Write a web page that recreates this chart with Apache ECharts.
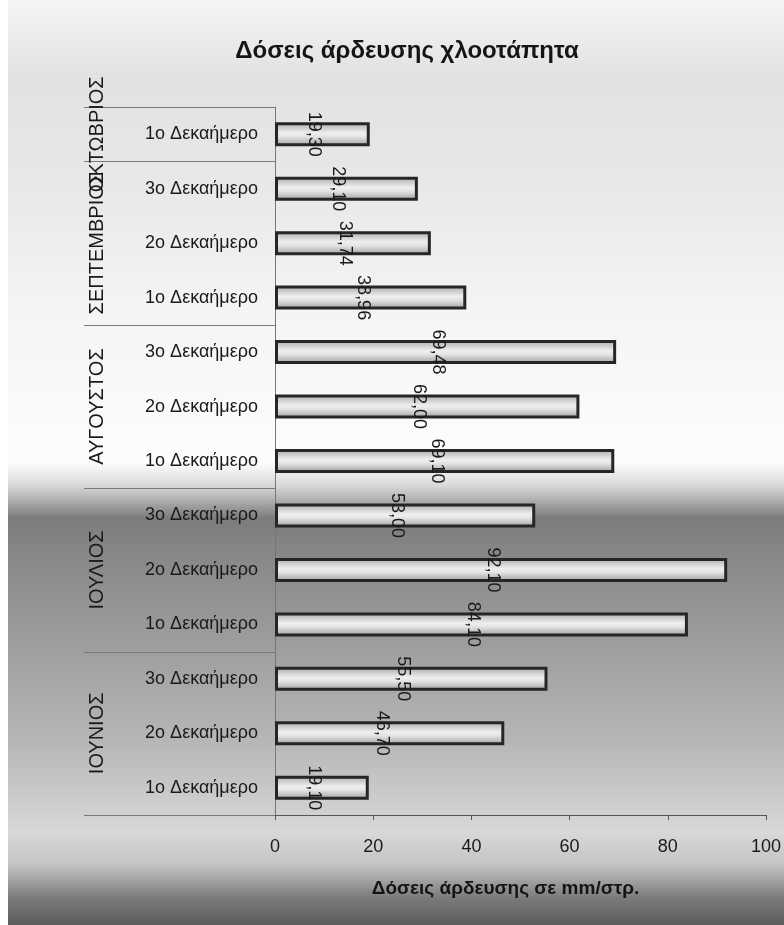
<!DOCTYPE html>
<html><head><meta charset="utf-8">
<script src="https://cdn.jsdelivr.net/npm/echarts@6/dist/echarts.min.js"></script>
<style>html,body{margin:0;padding:0;background:#fff}#c{width:784px;height:925px}</style>
</head><body><div id="c"></div>
<script>
// Categories listed from bottom (first) to top (last)
const categories = [
  '1ο Δεκαήμερο','2ο Δεκαήμερο','3ο Δεκαήμερο',
  '1ο Δεκαήμερο','2ο Δεκαήμερο','3ο Δεκαήμερο',
  '1ο Δεκαήμερο','2ο Δεκαήμερο','3ο Δεκαήμερο',
  '1ο Δεκαήμερο','2ο Δεκαήμερο','3ο Δεκαήμερο',
  '1ο Δεκαήμερο'
];
const months = ['ΙΟΥΝΙΟΣ','ΙΟΥΛΙΟΣ','ΑΥΓΟΥΣΤΟΣ','ΣΕΠΤΕΜΒΡΙΟΣ','ΟΚΤΩΒΡΙΟΣ'];
const monthSpans = [3, 3, 3, 3, 1];
const values = [19.10, 46.70, 55.50, 84.10, 92.10, 53.00, 69.10, 62.00, 69.48, 38.96, 31.74, 29.10, 19.30];
const xTicks = [0, 20, 40, 60, 80, 100];
const titleText = 'Δόσεις άρδευσης χλοοτάπητα';
const xAxisTitle = 'Δόσεις άρδευσης σε mm/στρ.';

const FONT = '"Liberation Sans", Arial, sans-serif';
const chart = echarts.init(document.getElementById('c'), null, {renderer: 'canvas'});

function bgGraphics() {
  return [
    {
      type: 'rect', z: -10, silent: true,
      shape: {x: 0, y: 0, width: 784, height: 925},
      style: {
        fill: new echarts.graphic.LinearGradient(0, 0, 0, 1, [
          {offset: 0.00, color: '#f6f6f6'},
          {offset: 0.08, color: '#e2e2e2'},
          {offset: 0.20, color: '#e8e8e8'},
          {offset: 0.33, color: '#f4f4f4'},
          {offset: 0.50, color: '#fdfdfd'},
          {offset: 0.525, color: '#d8d8d8'},
          {offset: 0.56, color: '#7c7c7c'},
          {offset: 0.61, color: '#8a8a8a'},
          {offset: 0.70, color: '#9e9e9e'},
          {offset: 0.80, color: '#b6b6b6'},
          {offset: 0.90, color: '#d8d8d8'},
          {offset: 0.935, color: '#c4c4c4'},
          {offset: 0.97, color: '#7c7c7c'},
          {offset: 1.00, color: '#5c5c5c'}
        ])
      }
    },
    {
      type: 'rect', z: -9, silent: true,
      shape: {x: 0, y: 0, width: 8, height: 925},
      style: {fill: '#ffffff'}
    }
  ];
}

chart.setOption({
  animation: false,
  backgroundColor: 'transparent',
  title: {
    text: titleText,
    left: 402, top: 34, textAlign: 'center',
    textStyle: {fontFamily: FONT, fontSize: 24, fontWeight: 'bold', color: '#151515'}
  },
  grid: {left: 275, right: 17, top: 107, bottom: 110, containLabel: false},
  xAxis: {
    type: 'value', min: 0, max: 100, interval: 20,
    name: xAxisTitle, nameLocation: 'middle', nameGap: 64,
    nameTextStyle: {fontFamily: FONT, fontSize: 19, fontWeight: 'bold', color: '#151515',
      padding: [0, 30, 0, 0]},
    axisLine: {show: true, lineStyle: {color: '#555', width: 1}},
    axisTick: {show: true, length: 5, inside: false, lineStyle: {color: '#555'}},
    axisLabel: {fontFamily: FONT, fontSize: 18, color: '#1a1a1a', margin: 23,
      formatter: v => xTicks.indexOf(v) >= 0 ? String(v) : ''},
    splitLine: {show: false}
  },
  yAxis: {
    type: 'category', data: categories,
    axisLine: {show: true, lineStyle: {color: '#777', width: 1}},
    axisTick: {show: false},
    axisLabel: {fontFamily: FONT, fontSize: 18, color: '#1a1a1a', margin: 17},
    splitLine: {show: false}
  },
  series: [{
    type: 'bar', data: values, barWidth: 24,
    itemStyle: {
      color: new echarts.graphic.LinearGradient(0, 0, 0, 1, [
        {offset: 0, color: '#a8a8a8'},
        {offset: 0.45, color: '#efefef'},
        {offset: 0.6, color: '#e4e4e4'},
        {offset: 1, color: '#9c9c9c'}
      ]),
      borderColor: '#262626', borderWidth: 3
    },
    label: {
      show: true, position: 'inside', rotate: -90, offset: [0, 8],
      fontFamily: FONT, fontSize: 18, color: '#1a1a1a',
      formatter: p => p.value.toFixed(2).replace('.', ',')
    }
  }],
  graphic: bgGraphics()
});

// Month group labels and separators, positioned through the category axis
function groupGraphics() {
  const els = bgGraphics();
  const px = i => chart.convertToPixel({yAxisIndex: 0}, i);
  const step = px(0) - px(1);
  const boundary = i => px(i) + step / 2; // lower edge of category i
  let start = 0;
  const lineYs = [boundary(0)];
  months.forEach((m, k) => {
    const end = start + monthSpans[k] - 1;
    const yBottom = boundary(start);
    const yTop = boundary(end) - step;
    lineYs.push(yTop);
    els.push({
      type: 'text', silent: true, z: 5,
      x: 97, y: (yBottom + yTop) / 2, rotation: Math.PI / 2,
      style: {text: m, fontFamily: FONT, fontSize: 20, fill: '#1a1a1a',
        align: 'center', verticalAlign: 'middle'}
    });
    start = end + 1;
  });
  lineYs.forEach(y => {
    els.push({
      type: 'line', silent: true, z: 4,
      shape: {x1: 84, y1: Math.round(y) + 0.5, x2: 275, y2: Math.round(y) + 0.5},
      style: {stroke: '#7a7a7a', lineWidth: 1}
    });
  });
  return els;
}
chart.setOption({graphic: groupGraphics()}, {replaceMerge: ['graphic']});
</script>
</body></html>
